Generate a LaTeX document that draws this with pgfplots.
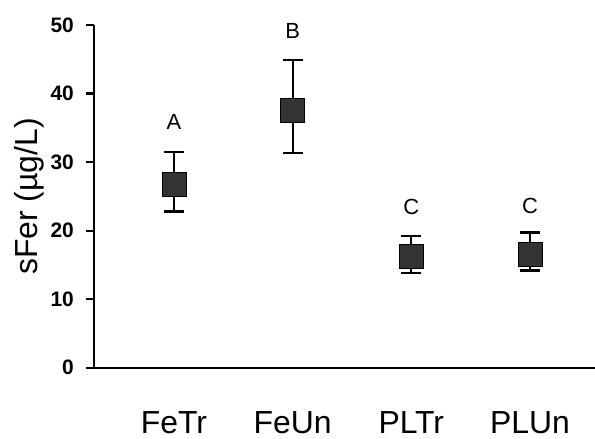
\documentclass[border=0pt]{standalone}
\usepackage{fontspec}
\setmainfont{Liberation Sans}
\usepackage{pgfplots}
\pgfplotsset{compat=1.18}
\usepackage{pgfplotstable}

% group means with upper / lower error
\pgfplotstableread{
x  y     ep   em
1  26.7  4.8  3.9
2  37.6  7.3  6.3
3  16.2  3.0  2.4
4  16.6  3.1  2.4
}\sfer

\pgfplotstableread{
x  y     lab
1  35.9  A
2  49.2  B
3  23.4  C
4  23.6  C
}\letters

\definecolor{markfill}{HTML}{333333}

\begin{document}
\begin{tikzpicture}
\begin{axis}[
    scale only axis,
    width=501bp, height=342.7bp,
    xmin=0.326, xmax=4.548,
    ymin=0, ymax=50,
    axis x line*=bottom, axis y line*=left,
    axis line style={line width=2.4bp},
    xtick=data,
    xticklabels={FeTr,FeUn,PLTr,PLUn},
    x tick style={draw=none},
    xticklabel style={anchor=base, yshift=-58bp, font=\fontsize{32}{32}\selectfont},
    ytick={0,10,...,50},
    y tick style={line width=2.2bp, black},
    tick align=outside,
    major tick length=8bp,
    /pgf/number format/assume math mode=true,
    yticklabel style={font=\fontsize{21}{21}\selectfont\bfseries, inner sep=0pt, xshift=-12bp},
    ylabel={sFer (µg/L)},
    ylabel style={at={(axis description cs:-0.1,0.5)}, anchor=south, rotate=0,
        font=\fontsize{32}{32}\selectfont, inner sep=0pt},
    clip=false,
]
\addplot[only marks, mark=square*, mark size=12bp,
    mark options={fill=markfill, draw=black, line width=0.8bp},
    error bars/.cd, y dir=both, y explicit,
    error mark options={rotate=90, mark size=10bp, line width=2.4bp},
    error bar style={line width=2.2bp, black}]
    table[x=x, y=y, y error plus=ep, y error minus=em] {\sfer};
\addplot[only marks, mark=none, nodes near coords, point meta=explicit symbolic,
    every node near coord/.append style={anchor=center, inner sep=0pt,
        font=\fontsize{22}{22}\selectfont}]
    table[x=x, y=y, meta=lab] {\letters};
\end{axis}
\pgfresetboundingbox
\path (-94bp,-71.3bp) rectangle (501bp,367.7bp);
\end{tikzpicture}
\end{document}
